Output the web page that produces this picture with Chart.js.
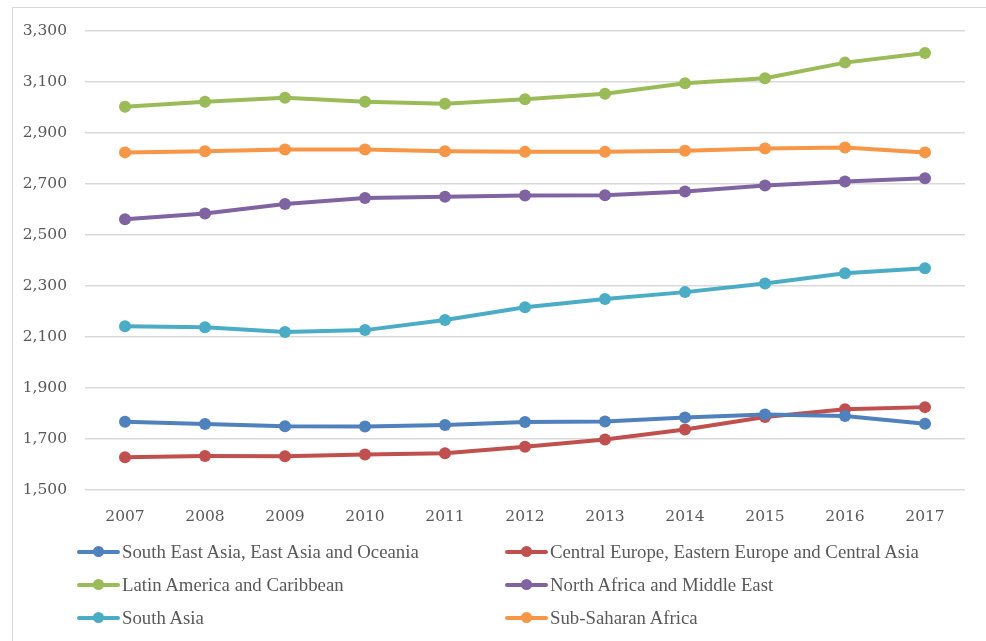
<!DOCTYPE html>
<html lang="en">
<head>
  <meta charset="UTF-8" />
  <title>Regional line chart</title>
  <script src="https://cdn.jsdelivr.net/npm/chart.js"></script>
  <style>
    body {
      margin: 0;
      background: #ffffff;
      overflow: hidden;
    }
    .wrap {
      position: relative;
      width: 986px;
      height: 641px;
      overflow: hidden;
    }
    .frame {
      position: absolute;
      left: 12px;
      top: 7px;
      width: 1100px;
      height: 800px;
      border: 1.5px solid #d9d9d9;
    }
    canvas {
      position: absolute;
      left: 0;
      top: 0;
    }
    #legend {
      position: absolute;
      left: 77px;
      top: 535px;
      display: grid;
      grid-template-columns: 428px 428px;
      grid-auto-rows: 33px;
      font-family: "Liberation Serif", serif;
      font-size: 18.8px;
      color: #595959;
    }
    .item {
      display: flex;
      align-items: center;
    }
    .mark {
      position: relative;
      width: 43px;
      height: 11px;
      margin-right: 2px;
    }
    .mark .ln {
      position: absolute;
      left: 0;
      right: 0;
      top: 3.5px;
      height: 4px;
      border-radius: 2px;
    }
    .mark .dot {
      position: absolute;
      left: 16px;
      top: 0;
      width: 11px;
      height: 11px;
      border-radius: 50%;
    }
  </style>
</head>
<body>
  <div class="wrap">
    <div class="frame"></div>
    <canvas id="chart" width="986" height="641"></canvas>
    <div id="legend"></div>
  </div>

  <script>
    const years = ['2007', '2008', '2009', '2010', '2011', '2012', '2013', '2014', '2015', '2016', '2017'];

    const seAsia = [1768, 1759, 1750, 1749, 1755, 1767, 1769, 1784, 1796, 1790, 1760];
    const centralEurope = [1628, 1633, 1632, 1639, 1644, 1670, 1698, 1737, 1786, 1817, 1825];
    const latinAmerica = [3003, 3023, 3038, 3023, 3015, 3032, 3054, 3095, 3115, 3176, 3214];
    const northAfrica = [2562, 2584, 2622, 2645, 2650, 2655, 2656, 2671, 2694, 2710, 2723];
    const southAsia = [2142, 2138, 2120, 2127, 2167, 2217, 2249, 2276, 2310, 2350, 2370];
    const subSaharan = [2824, 2828, 2835, 2835, 2828, 2826, 2826, 2830, 2839, 2843, 2824];

    const seriesNames = [
      'South East Asia, East Asia and Oceania',
      'Central Europe, Eastern Europe and Central Asia',
      'Latin America and Caribbean',
      'North Africa and Middle East',
      'South Asia',
      'Sub-Saharan Africa'
    ];
    const seriesData = [seAsia, centralEurope, latinAmerica, northAfrica, southAsia, subSaharan];
    const colores = ['#4f81bd', '#c0504d', '#9bbb59', '#8064a2', '#4bacc6', '#f79646'];

    const tickFont = { family: '"DejaVu Serif", serif', size: 15.5 };

    const ctx = document.getElementById('chart').getContext('2d');
    const chart = new Chart(ctx, {
      type: 'line',
      data: {
        labels: years,
        datasets: seriesData.map((d, i) => ({
          label: seriesNames[i],
          data: d,
          borderColor: colores[i],
          backgroundColor: colores[i],
          borderWidth: 4,
          pointRadius: 6,
          pointHoverRadius: 6,
          pointBorderWidth: 0,
          tension: 0
        }))
      },
      options: {
        responsive: false,
        animation: false,
        layout: { padding: { top: 31, right: 21, left: 0, bottom: 0 } },
        plugins: {
          legend: { display: false },
          tooltip: { enabled: false }
        },
        scales: {
          x: {
            offset: true,
            grid: { display: false },
            border: { display: false },
            ticks: { color: '#595959', font: tickFont, padding: 10, maxRotation: 0 },
            afterFit: s => { s.height = 151; }
          },
          y: {
            min: 1500,
            max: 3300,
            grid: { color: '#d9d9d9', lineWidth: 1.5, drawTicks: false },
            border: { display: false },
            ticks: {
              stepSize: 200,
              color: '#595959',
              font: tickFont,
              padding: 18,
              callback: v => v.toLocaleString('en-US')
            },
            afterFit: s => { s.width = 85; }
          }
        }
      }
    });

    // legend in two columns, built from the datasets
    const legend = document.getElementById('legend');
    chart.data.datasets.forEach(ds => {
      const item = document.createElement('div');
      item.className = 'item';
      item.innerHTML =
        '<span class="mark"><span class="ln" style="background:' + ds.borderColor + '"></span>' +
        '<span class="dot" style="background:' + ds.borderColor + '"></span></span>' +
        '<span>' + ds.label + '</span>';
      legend.appendChild(item);
    });
  </script>
</body>
</html>
